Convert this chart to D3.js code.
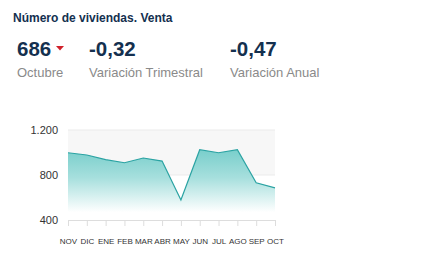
<!DOCTYPE html>
<html>
<head>
<meta charset="utf-8">
<script src="https://cdn.jsdelivr.net/npm/d3@7"></script>
<style>
  body { margin: 0; background: #fff; font-family: "Liberation Sans", Arial, sans-serif; }
</style>
</head>
<body>
<svg id="chart" width="437" height="264"></svg>
<script>
// data
var months = ["NOV","DIC","ENE","FEB","MAR","ABR","MAY","JUN","JUL","AGO","SEP","OCT"];
var values = [998, 978, 936, 909, 951, 924, 578, 1025, 998, 1025, 731, 686];
var yTicks = [400, 800, 1200];
var kpiValues = ["686", "-0,32", "-0,47"];
var kpiLabels = ["Octubre", "Variación Trimestral", "Variación Anual"];

var svg = d3.select("#chart");
var navy = "#14304f";

// title
svg.append("text")
  .attr("x", 13).attr("y", 22)
  .attr("font-size", 12).attr("font-weight", "bold")
  .attr("fill", navy)
  .text("Número de viviendas. Venta");

// kpis
var kpiX = [17, 89, 230];
kpiValues.forEach(function(v, i) {
  svg.append("text")
    .attr("x", kpiX[i]).attr("y", 56)
    .attr("font-size", 20.5).attr("font-weight", "bold")
    .attr("fill", navy)
    .text(v);
  svg.append("text")
    .attr("x", kpiX[i]).attr("y", 77)
    .attr("font-size", 13)
    .attr("fill", "#8a8a8a")
    .text(kpiLabels[i]);
});
// down arrow next to the first value
svg.append("path")
  .attr("d", "M56,46 L64,46 L60,50.5 Z")
  .attr("fill", "#d0202a");

// chart
var margin = {left: 68, right: 162, top: 130, bottom: 44};
var width = 437 - margin.left - margin.right;
var height = 264 - margin.top - margin.bottom;

var g = svg.append("g")
  .attr("transform", "translate(" + margin.left + "," + margin.top + ")");

var x = d3.scalePoint().domain(months).range([0, width]);
var y = d3.scaleLinear().domain([400, 1200]).range([height, 0]);

// shaded band between 800 and 1200
g.append("rect")
  .attr("x", 0).attr("y", y(1200))
  .attr("width", width).attr("height", y(800) - y(1200))
  .attr("fill", "#f7f7f7");

g.selectAll(".grid")
  .data([800, 1200])
  .enter().append("line")
  .attr("x1", 0).attr("x2", width)
  .attr("y1", function(d) { return y(d); })
  .attr("y2", function(d) { return y(d); })
  .attr("stroke", "#ebebeb");

// gradient
var defs = svg.append("defs");
var grad = defs.append("linearGradient")
  .attr("id", "fade")
  .attr("gradientUnits", "userSpaceOnUse")
  .attr("x1", 0).attr("x2", 0)
  .attr("y1", y(1030)).attr("y2", y(470));
grad.append("stop").attr("offset", 0).attr("stop-color", "#78cecb");
grad.append("stop").attr("offset", 0.45).attr("stop-color", "#a6dfdd");
grad.append("stop").attr("offset", 1).attr("stop-color", "#ffffff");

var area = d3.area()
  .x(function(d, i) { return x(months[i]); })
  .y0(y(470))
  .y1(function(d) { return y(d); });

g.append("path")
  .datum(values)
  .attr("d", area)
  .attr("fill", "url(#fade)");

var line = d3.line()
  .x(function(d, i) { return x(months[i]); })
  .y(function(d) { return y(d); });

g.append("path")
  .datum(values)
  .attr("d", line)
  .attr("fill", "none")
  .attr("stroke", "#2ba3a3")
  .attr("stroke-width", 1.2);

// x axis
var xAxis = g.append("g")
  .attr("transform", "translate(0," + height + ")")
  .call(d3.axisBottom(x).tickSize(6).tickPadding(12));
xAxis.select(".domain").attr("stroke", "#dddddd");
xAxis.selectAll(".tick line").attr("stroke", "#dddddd");
xAxis.selectAll("text")
  .attr("font-family", "Liberation Sans, Arial, sans-serif")
  .attr("font-size", 8)
  .attr("fill", "#333");

// y labels
g.selectAll(".ylab")
  .data(yTicks)
  .enter().append("text")
  .attr("x", -10)
  .attr("y", function(d) { return y(d); })
  .attr("dy", "0.35em")
  .attr("text-anchor", "end")
  .attr("font-size", 11)
  .attr("fill", "#333")
  .text(function(d) { return d3.format(",")(d).replace(",", "."); });
</script>
</body>
</html>
